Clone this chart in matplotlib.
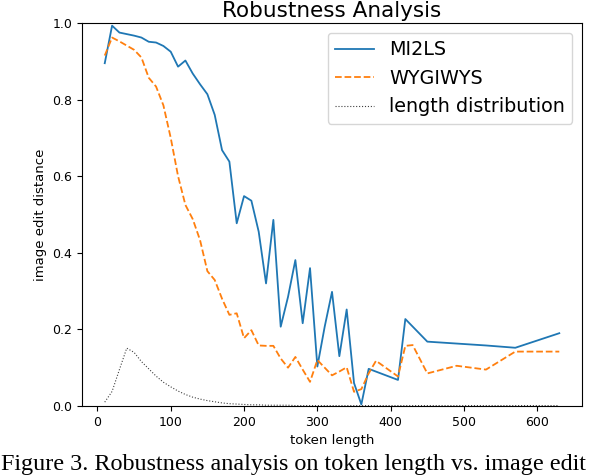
import matplotlib
matplotlib.use("Agg")
import matplotlib.pyplot as plt

# token length bins
mi2ls_x = [10, 20, 30, 40, 50, 60, 70, 80, 90, 100, 110, 120, 130, 140, 150, 160, 170, 180,
           190, 200, 210, 220, 230, 240, 250, 260, 270, 280, 290, 300, 310, 320, 330, 340,
           350, 360, 370, 410, 420, 450, 490, 530, 570, 630]
mi2ls_y = [0.895, 0.993, 0.975, 0.971, 0.967, 0.962, 0.951, 0.949, 0.940, 0.925, 0.886, 0.902,
           0.868, 0.840, 0.814, 0.760, 0.668, 0.638, 0.477, 0.548, 0.536, 0.455, 0.320, 0.486,
           0.207, 0.285, 0.381, 0.216, 0.360, 0.103, 0.207, 0.298, 0.130, 0.252, 0.060, 0.004,
           0.097, 0.068, 0.227, 0.168, 0.163, 0.158, 0.152, 0.190]

wygiwys_x = [10, 20, 30, 40, 50, 60, 70, 80, 90, 100, 110, 120, 130, 140, 150, 160, 170, 180,
             190, 200, 210, 220, 230, 240, 250, 260, 270, 280, 290, 300, 310, 320, 330, 340,
             350, 360, 370, 380, 410, 420, 430, 450, 490, 530, 570, 630]
wygiwys_y = [0.915, 0.962, 0.952, 0.941, 0.930, 0.910, 0.857, 0.834, 0.785, 0.700, 0.600, 0.525,
             0.488, 0.433, 0.352, 0.329, 0.280, 0.238, 0.242, 0.177, 0.198, 0.158, 0.157, 0.157,
             0.124, 0.100, 0.128, 0.095, 0.063, 0.120, 0.100, 0.080, 0.090, 0.101, 0.037, 0.044,
             0.085, 0.118, 0.077, 0.157, 0.159, 0.085, 0.105, 0.095, 0.142, 0.142]

dist_x = list(range(10, 640, 10))
dist_y = [0.010, 0.038, 0.095, 0.151, 0.140, 0.116, 0.097, 0.078, 0.062, 0.050, 0.039, 0.030,
          0.023, 0.018, 0.014, 0.011, 0.008, 0.006, 0.005, 0.004, 0.003, 0.003, 0.002, 0.002,
          0.002, 0.002, 0.001, 0.001, 0.001, 0.001, 0.001, 0.001, 0.001, 0.001, 0.001, 0.001,
          0.001, 0.001, 0.001, 0.001, 0.001, 0.001, 0.001, 0.001, 0.001, 0.001, 0.001, 0.001,
          0.001, 0.001, 0.001, 0.001, 0.001, 0.001, 0.001, 0.001, 0.001, 0.001, 0.001, 0.001,
          0.001, 0.001, 0.001]

# the caption is cut off at the right edge in the source image
caption = "Figure 3. Robustness analysis on token length vs. image edit"

fig = plt.figure(figsize=(6.04, 4.76), dpi=100)
ax = fig.add_axes([0.1358, 0.1471, 0.8278, 0.8046])

ax.plot(mi2ls_x, mi2ls_y, '-', color='C0', lw=1.3, label='MI2LS')
ax.plot(wygiwys_x, wygiwys_y, '--', color='C1', lw=1.3, label='WYGIWYS')
ax.plot(dist_x, dist_y, ':', color='0.25', lw=0.8, label='length distribution')

ax.set_ylim(0, 1.0)
ax.set_title('Robustness Analysis', fontsize=15.5, pad=4)
ax.set_xlabel('token length', fontsize=9.5)
ax.set_ylabel('image edit distance', fontsize=9.5)
ax.tick_params(labelsize=9)
ax.legend(loc='upper right', fontsize=13.8)

fig.text(0.002, 0.012, caption, family='Liberation Serif', fontsize=17.4, ha='left', va='baseline')

fig.savefig('out.png', dpi=100)
